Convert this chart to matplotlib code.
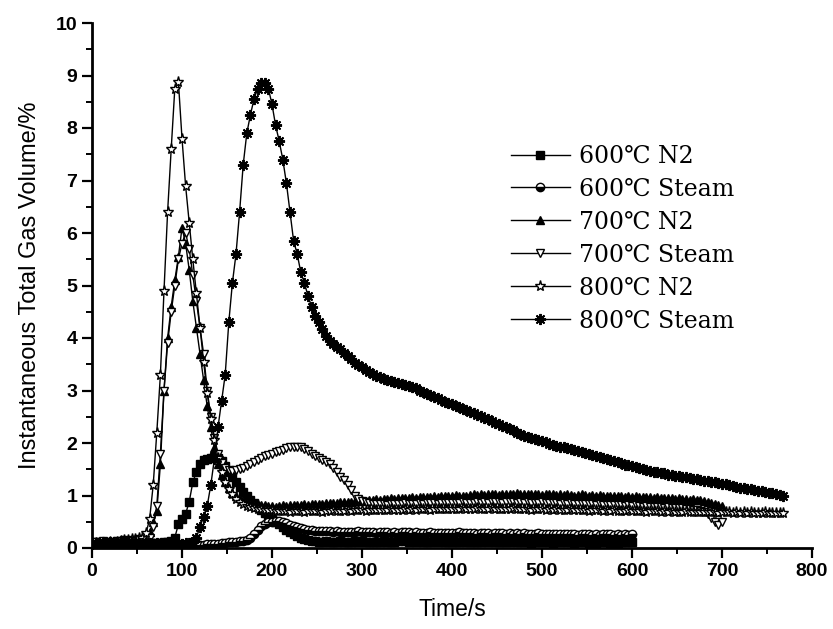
import numpy as np
import matplotlib
matplotlib.use("Agg")
import matplotlib.pyplot as plt
from matplotlib.ticker import MultipleLocator

# sampling step of the gas analyser readings (s)
step = 4

# 800C N2, t = 0 .. 768 s
n2_800 = [
    0.08, 0.09, 0.08, 0.10, 0.09, 0.11, 0.10, 0.12, 0.13, 0.15,
    0.16, 0.18, 0.17, 0.19, 0.20, 0.28, 0.55, 1.20, 2.20, 3.30,
    4.90, 6.40, 7.60, 8.75, 8.88, 7.80, 6.90, 6.20, 5.50, 4.85,
    4.20, 3.55, 2.95, 2.45, 2.05, 1.72, 1.45, 1.26, 1.12, 1.02,
    0.94, 0.88, 0.84, 0.80, 0.78, 0.76, 0.75, 0.74, 0.73, 0.72,
    0.72, 0.71, 0.70, 0.71, 0.70, 0.69, 0.70, 0.71, 0.70, 0.69,
    0.70, 0.70, 0.71, 0.70, 0.69, 0.70, 0.71, 0.72, 0.71, 0.70,
    0.71, 0.72, 0.71, 0.72, 0.73, 0.72, 0.71, 0.72, 0.73, 0.72,
    0.73, 0.72, 0.73, 0.74, 0.73, 0.72, 0.73, 0.74, 0.73, 0.74,
    0.73, 0.74, 0.75, 0.74, 0.73, 0.74, 0.75, 0.74, 0.75, 0.74,
    0.75, 0.74, 0.75, 0.76, 0.75, 0.74, 0.75, 0.76, 0.75, 0.74,
    0.75, 0.76, 0.75, 0.74, 0.75, 0.74, 0.75, 0.76, 0.75, 0.74,
    0.75, 0.74, 0.73, 0.74, 0.75, 0.74, 0.73, 0.74, 0.73, 0.74,
    0.73, 0.72, 0.73, 0.74, 0.73, 0.72, 0.73, 0.72, 0.71, 0.72,
    0.73, 0.72, 0.71, 0.72, 0.71, 0.72, 0.71, 0.70, 0.71, 0.72,
    0.71, 0.70, 0.71, 0.70, 0.69, 0.70, 0.71, 0.70, 0.69, 0.70,
    0.69, 0.70, 0.69, 0.68, 0.69, 0.70, 0.69, 0.68, 0.69, 0.68,
    0.69, 0.68, 0.69, 0.68, 0.67, 0.68, 0.69, 0.68, 0.67, 0.68,
    0.67, 0.68, 0.67, 0.68, 0.67, 0.66, 0.67, 0.68, 0.67, 0.66,
    0.67, 0.66, 0.67,
]

# 800C Steam, t = 0 .. 768 s
steam_800 = [
    0.10, 0.09, 0.10, 0.11, 0.10, 0.12, 0.11, 0.10, 0.11, 0.12,
    0.11, 0.12, 0.11, 0.10, 0.09, 0.10, 0.09, 0.08, 0.09, 0.08,
    0.09, 0.08, 0.09, 0.10, 0.09, 0.08, 0.09, 0.10, 0.12, 0.20,
    0.40, 0.60, 0.80, 1.20, 1.70, 2.30, 2.80, 3.30, 4.30, 5.05,
    5.60, 6.40, 7.30, 7.90, 8.25, 8.55, 8.75, 8.86, 8.85, 8.75,
    8.45, 8.05, 7.75, 7.40, 6.95, 6.40, 5.85, 5.60, 5.25, 5.05,
    4.80, 4.60, 4.42, 4.30, 4.17, 4.03, 3.95, 3.88, 3.83, 3.79,
    3.72, 3.65, 3.60, 3.53, 3.48, 3.44, 3.40, 3.36, 3.32, 3.28,
    3.25, 3.22, 3.20, 3.19, 3.17, 3.15, 3.13, 3.11, 3.09, 3.07,
    3.04, 3.00, 2.97, 2.94, 2.91, 2.88, 2.85, 2.82, 2.79, 2.76,
    2.74, 2.71, 2.68, 2.65, 2.62, 2.60, 2.57, 2.54, 2.51, 2.48,
    2.45, 2.42, 2.39, 2.36, 2.33, 2.30, 2.27, 2.24, 2.20, 2.17,
    2.13, 2.11, 2.09, 2.07, 2.05, 2.03, 2.01, 1.99, 1.97, 1.95,
    1.93, 1.92, 1.90, 1.88, 1.87, 1.85, 1.83, 1.81, 1.79, 1.77,
    1.75, 1.73, 1.71, 1.69, 1.67, 1.65, 1.63, 1.61, 1.59, 1.58,
    1.57, 1.55, 1.53, 1.51, 1.49, 1.47, 1.45, 1.44, 1.43, 1.42,
    1.40, 1.39, 1.38, 1.37, 1.36, 1.35, 1.33, 1.32, 1.31, 1.29,
    1.28, 1.27, 1.26, 1.25, 1.24, 1.22, 1.21, 1.20, 1.18, 1.17,
    1.15, 1.14, 1.13, 1.12, 1.10, 1.09, 1.08, 1.07, 1.05, 1.04,
    1.02, 1.01, 1.00,
]

# 700C N2, t = 0 .. 700 s
n2_700 = [
    0.10, 0.11, 0.10, 0.12, 0.11, 0.10, 0.12, 0.13, 0.12, 0.14,
    0.15, 0.14, 0.16, 0.15, 0.17, 0.20, 0.30, 0.50, 0.70, 1.60,
    3.00, 4.00, 4.60, 5.10, 5.55, 6.10, 5.80, 5.30, 4.70, 4.20,
    3.70, 3.20, 2.70, 2.30, 1.90, 1.60, 1.40, 1.25, 1.15, 1.05,
    1.00, 0.95, 0.91, 0.88, 0.86, 0.84, 0.83, 0.82, 0.81, 0.80,
    0.80, 0.79, 0.80, 0.81, 0.80, 0.81, 0.82, 0.81, 0.82, 0.83,
    0.82, 0.83, 0.84, 0.83, 0.84, 0.85, 0.86, 0.85, 0.86, 0.87,
    0.88, 0.87, 0.88, 0.89, 0.90, 0.91, 0.90, 0.91, 0.92, 0.93,
    0.92, 0.93, 0.94, 0.95, 0.94, 0.95, 0.96, 0.95, 0.96, 0.97,
    0.96, 0.97, 0.98, 0.97, 0.98, 0.99, 0.98, 0.99, 1.00, 0.99,
    1.00, 1.01, 1.00, 0.99, 1.00, 1.01, 1.02, 1.01, 1.02, 1.01,
    1.02, 1.03, 1.02, 1.01, 1.02, 1.03, 1.02, 1.03, 1.04, 1.03,
    1.02, 1.03, 1.02, 1.03, 1.02, 1.01, 1.02, 1.03, 1.02, 1.01,
    1.02, 1.01, 1.02, 1.01, 1.00, 1.01, 1.02, 1.01, 1.00, 1.01,
    1.00, 1.01, 1.00, 0.99, 1.00, 0.99, 1.00, 0.99, 0.98, 0.99,
    0.98, 0.99, 0.98, 0.97, 0.98, 0.97, 0.96, 0.97, 0.96, 0.95,
    0.96, 0.95, 0.94, 0.95, 0.94, 0.93, 0.92, 0.93, 0.92, 0.91,
    0.90, 0.88, 0.86, 0.84, 0.82, 0.80,
]

# 700C Steam, t = 0 .. 700 s
steam_700 = [
    0.12, 0.11, 0.12, 0.13, 0.12, 0.11, 0.12, 0.14, 0.13, 0.15,
    0.14, 0.16, 0.15, 0.17, 0.16, 0.18, 0.20, 0.40, 0.80, 1.80,
    3.00, 3.90, 4.50, 5.00, 5.50, 5.80, 6.00, 5.70, 5.20, 4.70,
    4.20, 3.70, 3.00, 2.50, 2.10, 1.80, 1.62, 1.52, 1.48, 1.47,
    1.48, 1.50, 1.52, 1.56, 1.60, 1.64, 1.68, 1.72, 1.75, 1.78,
    1.80, 1.82, 1.84, 1.87, 1.90, 1.92, 1.93, 1.93, 1.92, 1.88,
    1.84, 1.80, 1.76, 1.72, 1.68, 1.64, 1.60, 1.52, 1.44, 1.36,
    1.30, 1.20, 1.10, 1.00, 0.94, 0.90, 0.87, 0.85, 0.84, 0.83,
    0.84, 0.83, 0.82, 0.83, 0.84, 0.83, 0.84, 0.85, 0.84, 0.83,
    0.84, 0.85, 0.84, 0.85, 0.86, 0.85, 0.84, 0.85, 0.86, 0.85,
    0.86, 0.85, 0.86, 0.87, 0.86, 0.85, 0.86, 0.87, 0.86, 0.87,
    0.86, 0.87, 0.88, 0.87, 0.86, 0.87, 0.88, 0.87, 0.86, 0.87,
    0.86, 0.87, 0.86, 0.85, 0.86, 0.87, 0.86, 0.85, 0.86, 0.85,
    0.84, 0.85, 0.84, 0.85, 0.84, 0.83, 0.84, 0.83, 0.84, 0.83,
    0.82, 0.83, 0.82, 0.81, 0.82, 0.81, 0.82, 0.81, 0.80, 0.81,
    0.80, 0.81, 0.80, 0.79, 0.80, 0.79, 0.78, 0.79, 0.78, 0.77,
    0.78, 0.77, 0.76, 0.77, 0.76, 0.75, 0.74, 0.73, 0.72, 0.70,
    0.68, 0.64, 0.58, 0.50, 0.44, 0.50,
]

# 600C N2, t = 0 .. 600 s
n2_600 = [
    0.08, 0.07, 0.08, 0.09, 0.08, 0.07, 0.08, 0.09, 0.10, 0.12,
    0.13, 0.14, 0.13, 0.12, 0.11, 0.10, 0.09, 0.10, 0.09, 0.10,
    0.11, 0.12, 0.14, 0.20, 0.45, 0.55, 0.65, 0.88, 1.25, 1.45,
    1.60, 1.67, 1.70, 1.72, 1.74, 1.72, 1.66, 1.56, 1.45, 1.35,
    1.25, 1.16, 1.07, 1.00, 0.92, 0.85, 0.78, 0.72, 0.66, 0.61,
    0.56, 0.50, 0.45, 0.40, 0.35, 0.30, 0.26, 0.22, 0.19, 0.17,
    0.15, 0.14, 0.13, 0.12, 0.12, 0.13, 0.12, 0.11, 0.12, 0.13,
    0.12, 0.11, 0.12, 0.13, 0.12, 0.13, 0.12, 0.11, 0.12, 0.11,
    0.12, 0.13, 0.12, 0.11, 0.12, 0.13, 0.14, 0.13, 0.12, 0.13,
    0.12, 0.13, 0.12, 0.11, 0.12, 0.13, 0.12, 0.13, 0.12, 0.11,
    0.12, 0.11, 0.12, 0.13, 0.12, 0.11, 0.12, 0.11, 0.12, 0.13,
    0.12, 0.13, 0.12, 0.11, 0.12, 0.11, 0.12, 0.13, 0.12, 0.11,
    0.12, 0.11, 0.10, 0.11, 0.12, 0.11, 0.12, 0.11, 0.10, 0.11,
    0.12, 0.11, 0.12, 0.11, 0.10, 0.11, 0.12, 0.11, 0.10, 0.11,
    0.10, 0.11, 0.12, 0.11, 0.10, 0.11, 0.10, 0.11, 0.12, 0.11,
    0.11,
]

# 600C Steam, t = 0 .. 600 s
steam_600 = [
    0.05, 0.06, 0.05, 0.06, 0.07, 0.06, 0.05, 0.06, 0.07, 0.08,
    0.09, 0.10, 0.09, 0.08, 0.07, 0.06, 0.05, 0.06, 0.05, 0.06,
    0.05, 0.06, 0.05, 0.04, 0.05, 0.04, 0.05, 0.04, 0.05, 0.06,
    0.05, 0.06, 0.07, 0.08, 0.07, 0.08, 0.09, 0.10, 0.11, 0.12,
    0.12, 0.13, 0.13, 0.15, 0.20, 0.27, 0.34, 0.41, 0.46, 0.49,
    0.50, 0.51, 0.51, 0.50, 0.47, 0.44, 0.42, 0.40, 0.38, 0.37,
    0.35, 0.34, 0.33, 0.33, 0.32, 0.33, 0.32, 0.31, 0.32, 0.31,
    0.30, 0.31, 0.30, 0.31, 0.32, 0.31, 0.30, 0.31, 0.30, 0.29,
    0.30, 0.31, 0.30, 0.29, 0.30, 0.29, 0.30, 0.31, 0.30, 0.29,
    0.30, 0.29, 0.28, 0.29, 0.30, 0.29, 0.28, 0.29, 0.28, 0.29,
    0.28, 0.29, 0.30, 0.29, 0.28, 0.29, 0.28, 0.27, 0.28, 0.29,
    0.28, 0.27, 0.28, 0.29, 0.28, 0.27, 0.28, 0.27, 0.28, 0.27,
    0.28, 0.27, 0.26, 0.27, 0.28, 0.27, 0.26, 0.27, 0.26, 0.27,
    0.26, 0.27, 0.26, 0.27, 0.26, 0.25, 0.26, 0.27, 0.26, 0.25,
    0.26, 0.25, 0.26, 0.27, 0.26, 0.25, 0.26, 0.25, 0.26, 0.25,
    0.26,
]

series = [
    ("600\u2103 N2", n2_600, dict(marker="s", mfc="black")),
    ("600\u2103 Steam", steam_600, dict(marker="o", mfc="black", fillstyle="bottom", markerfacecoloralt="white")),
    ("700\u2103 N2", n2_700, dict(marker="^", mfc="black")),
    ("700\u2103 Steam", steam_700, dict(marker="v", mfc="white")),
    ("800\u2103 N2", n2_800, dict(marker="*", mfc="white", ms=8)),
    ("800\u2103 Steam", steam_800, dict(marker=(8, 2, 0), mfc="black", ms=8, mew=1.4)),
]

fig = plt.figure(figsize=(8.33, 6.29), dpi=100)
ax = fig.add_axes([92 / 833, 1 - 548 / 629, 720 / 833, 525 / 629])

for label, vals, style in series:
    t = np.arange(len(vals)) * step
    kw = dict(color="black", lw=1.0, ms=6, mec="black", mew=1.0)
    kw.update(style)
    ax.plot(t, vals, label=label, **kw)

ax.set_xlim(0, 800)
ax.set_ylim(0, 10)
ax.xaxis.set_major_locator(MultipleLocator(100))
ax.xaxis.set_minor_locator(MultipleLocator(50))
ax.yaxis.set_major_locator(MultipleLocator(1))
ax.yaxis.set_minor_locator(MultipleLocator(0.5))

for s in ["top", "right"]:
    ax.spines[s].set_visible(False)
for s in ["left", "bottom"]:
    ax.spines[s].set_linewidth(2)

ax.tick_params(which="major", direction="out", length=7, width=1.6, labelsize=14)
ax.tick_params(which="minor", direction="out", length=4, width=1.4)
for lab in ax.get_xticklabels() + ax.get_yticklabels():
    lab.set_family("Liberation Sans")
    lab.set_fontweight("bold")

ax.set_xlabel("Time/s", family="Liberation Sans", fontsize=16.5, labelpad=13)
ax.set_ylabel("Instantaneous Total Gas Volume/%", family="Liberation Sans", fontsize=17, labelpad=11)

ax.legend(loc="upper left", bbox_to_anchor=(499 / 833, 1 - 133 / 629), bbox_transform=fig.transFigure,
          frameon=False, handlelength=2.5, labelspacing=0.42, handletextpad=0.4, borderpad=0,
          prop=dict(family=["DejaVu Serif", "DejaVu Sans"], size=17))

fig.savefig("out.png", dpi=100)
